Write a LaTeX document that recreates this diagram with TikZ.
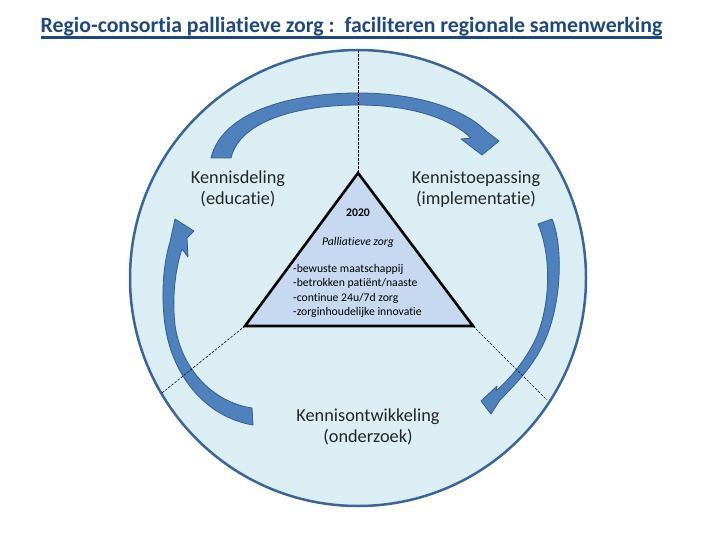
\documentclass[tikz,border=0pt]{standalone}
\usepackage{fontspec}
\setmainfont{Carlito}[Ligatures=NoCommon]
\usepackage{xcolor}
\usepackage{tikz}

\definecolor{titleblue}{HTML}{1F497D}
\definecolor{ringfill}{HTML}{DAEEF3}
\definecolor{ringline}{HTML}{3C6496}
\definecolor{trifill}{HTML}{C6D9F1}
\definecolor{arrowfill}{HTML}{4F81BD}
\definecolor{arrowline}{HTML}{385D8A}

\tikzset{
  phase/.style={align=center, font=\fontsize{18.3}{21}\selectfont, text=black!85, inner sep=0},
  sepline/.style={black, line width=0.6pt, dash pattern=on 2.5pt off 1.5pt},
  cyclearrow/.style={draw=arrowline, line width=0.8pt, fill=arrowfill, line join=round},
  small/.style={font=\fontsize{11.7}{14.4}\selectfont, inner sep=0},
}

\begin{document}
\begin{tikzpicture}[x=1pt, y=-1pt]
  \useasboundingbox (0,0) rectangle (720,540);
  % title
  \node[font=\bfseries\fontsize{21.8}{25}\selectfont, text=titleblue, inner sep=0, anchor=base] (title) at (351.5,33) {Regio-consortia palliatieve zorg :\ \ faciliteren regionale samenwerking};
  \draw[titleblue, line width=2.2pt] ([yshift=-4.5pt]title.base west) -- ([yshift=-4.5pt]title.base east);
  % ring
  \coordinate (centre) at (358,278);
  \draw[ringline, fill=ringfill, line width=2.5pt] (centre) circle [radius=228pt];
  % cycle arrows
  \path[cyclearrow] (211,158) .. controls (222,112) and (290,93) .. (358,93)
    .. controls (420,93) and (465,110) .. (486,131)
    -- (499,141) -- (482,155) -- (461,139) -- (471,138)
    .. controls (450,118) and (410,105) .. (358,105)
    .. controls (300,105) and (240,120) .. (231,158) -- cycle;
  \path[cyclearrow] (538,224) -- (552,219) .. controls (563,245) and (562,300) .. (546,338)
    .. controls (536,362) and (520,380) .. (500,400)
    -- (491,414) -- (481,401) -- (497,386) -- (496,391)
    .. controls (514,375) and (528,356) .. (537,336)
    .. controls (551,300) and (551,255) .. (538,224) -- cycle;
  \path[cyclearrow] (253,425) .. controls (205,417) and (172,375) .. (165,325)
    .. controls (161,295) and (163,265) .. (170,242)
    -- (175,219) -- (194,231) -- (187,238) -- (188,257) -- (182,249)
    .. controls (175,270) and (172,298) .. (175,325)
    .. controls (181,368) and (212,402) .. (252,408) -- cycle;
  % triangle and dividers
  \coordinate (apex) at (358,173);
  \coordinate (lefttip) at (245,326);
  \coordinate (righttip) at (473,326);
  \coordinate (topend) at (358,51);
  \coordinate (leftend) at (162,393);
  \coordinate (rightend) at (547,400);
  \draw[sepline] (apex) -- (topend);
  \draw[sepline] (lefttip) -- (leftend);
  \draw[sepline] (righttip) -- (rightend);
  \draw[line width=2.6pt, fill=trifill] (apex) -- (righttip) -- (lefttip) -- cycle;
  % phases
  \node[phase] (deling) at (238,189) {Kennisdeling\\(educatie)};
  \node[phase] (toepassing) at (476,189) {Kennistoepassing\\(implementatie)};
  \node[phase] (ontwikkeling) at (368,427) {Kennisontwikkeling\\(onderzoek)};
  % vision 2020
  \node[small, font=\bfseries\fontsize{11.7}{14}\selectfont] (year) at (358,213) {2020};
  \node[small, font=\itshape\fontsize{11.7}{14}\selectfont] (vision) at (358,242) {Palliatieve zorg};
  \node[small, align=left, anchor=north west] (goals) at (293,264) {-bewuste maatschappij\\-betrokken patiënt/naaste\\-continue 24u/7d zorg\\-zorginhoudelijke innovatie};
\end{tikzpicture}
\end{document}
